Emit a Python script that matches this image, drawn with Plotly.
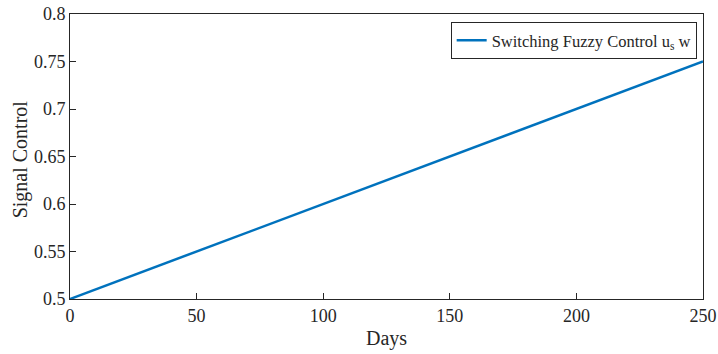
import plotly.graph_objects as go

days = [0, 50, 100, 150, 200, 250]
signal = [0.5, 0.55, 0.6, 0.65, 0.7, 0.75]
x_ticks = [0, 50, 100, 150, 200, 250]
y_ticks = [0.5, 0.55, 0.6, 0.65, 0.7, 0.75, 0.8]
y_labels = ["0.5", "0.55", "0.6", "0.65", "0.7", "0.75", "0.8"]

font = "Liberation Serif, Times New Roman, serif"

fig = go.Figure()
fig.add_trace(go.Scatter(
    x=days, y=signal, mode="lines",
    line=dict(color="#0072BD", width=2.5),
    name="Switching Fuzzy Control u<sub>s</sub> w",
))

axis_common = dict(
    showgrid=False, zeroline=False, showline=True, mirror=True,
    linecolor="#262626", linewidth=1, ticks="inside", ticklen=6,
    tickcolor="#262626", tickfont=dict(family=font, size=18, color="#262626"),
    automargin=False, ticklabeloverflow="allow",
)

fig.update_layout(
    width=718, height=354,
    margin=dict(l=70, r=15, t=14, b=55),
    paper_bgcolor="white", plot_bgcolor="white",
    font=dict(family=font, color="#262626"),
    showlegend=True,
    legend=dict(
        x=0.99, y=0.972, xanchor="right", yanchor="top",
        bgcolor="white", bordercolor="#262626", borderwidth=1,
        font=dict(family=font, size=16.5, color="#262626"),
        itemwidth=30, tracegroupgap=0,
    ),
    xaxis=dict(range=[0, 250], tickvals=x_ticks,
               title=dict(text="Days", font=dict(family=font, size=20), standoff=6),
               **axis_common),
    yaxis=dict(range=[0.5, 0.8], tickvals=y_ticks, ticktext=y_labels,
               **axis_common),
    annotations=[dict(
        text="Signal Control", textangle=-90, showarrow=False,
        xref="paper", yref="paper", x=-0.079, y=0.49,
        xanchor="center", yanchor="middle",
        font=dict(family=font, size=20, color="#262626"),
    )],
)

fig.write_html("out.html", config={"displayModeBar": False},
               post_script="document.body.style.margin='0';")
